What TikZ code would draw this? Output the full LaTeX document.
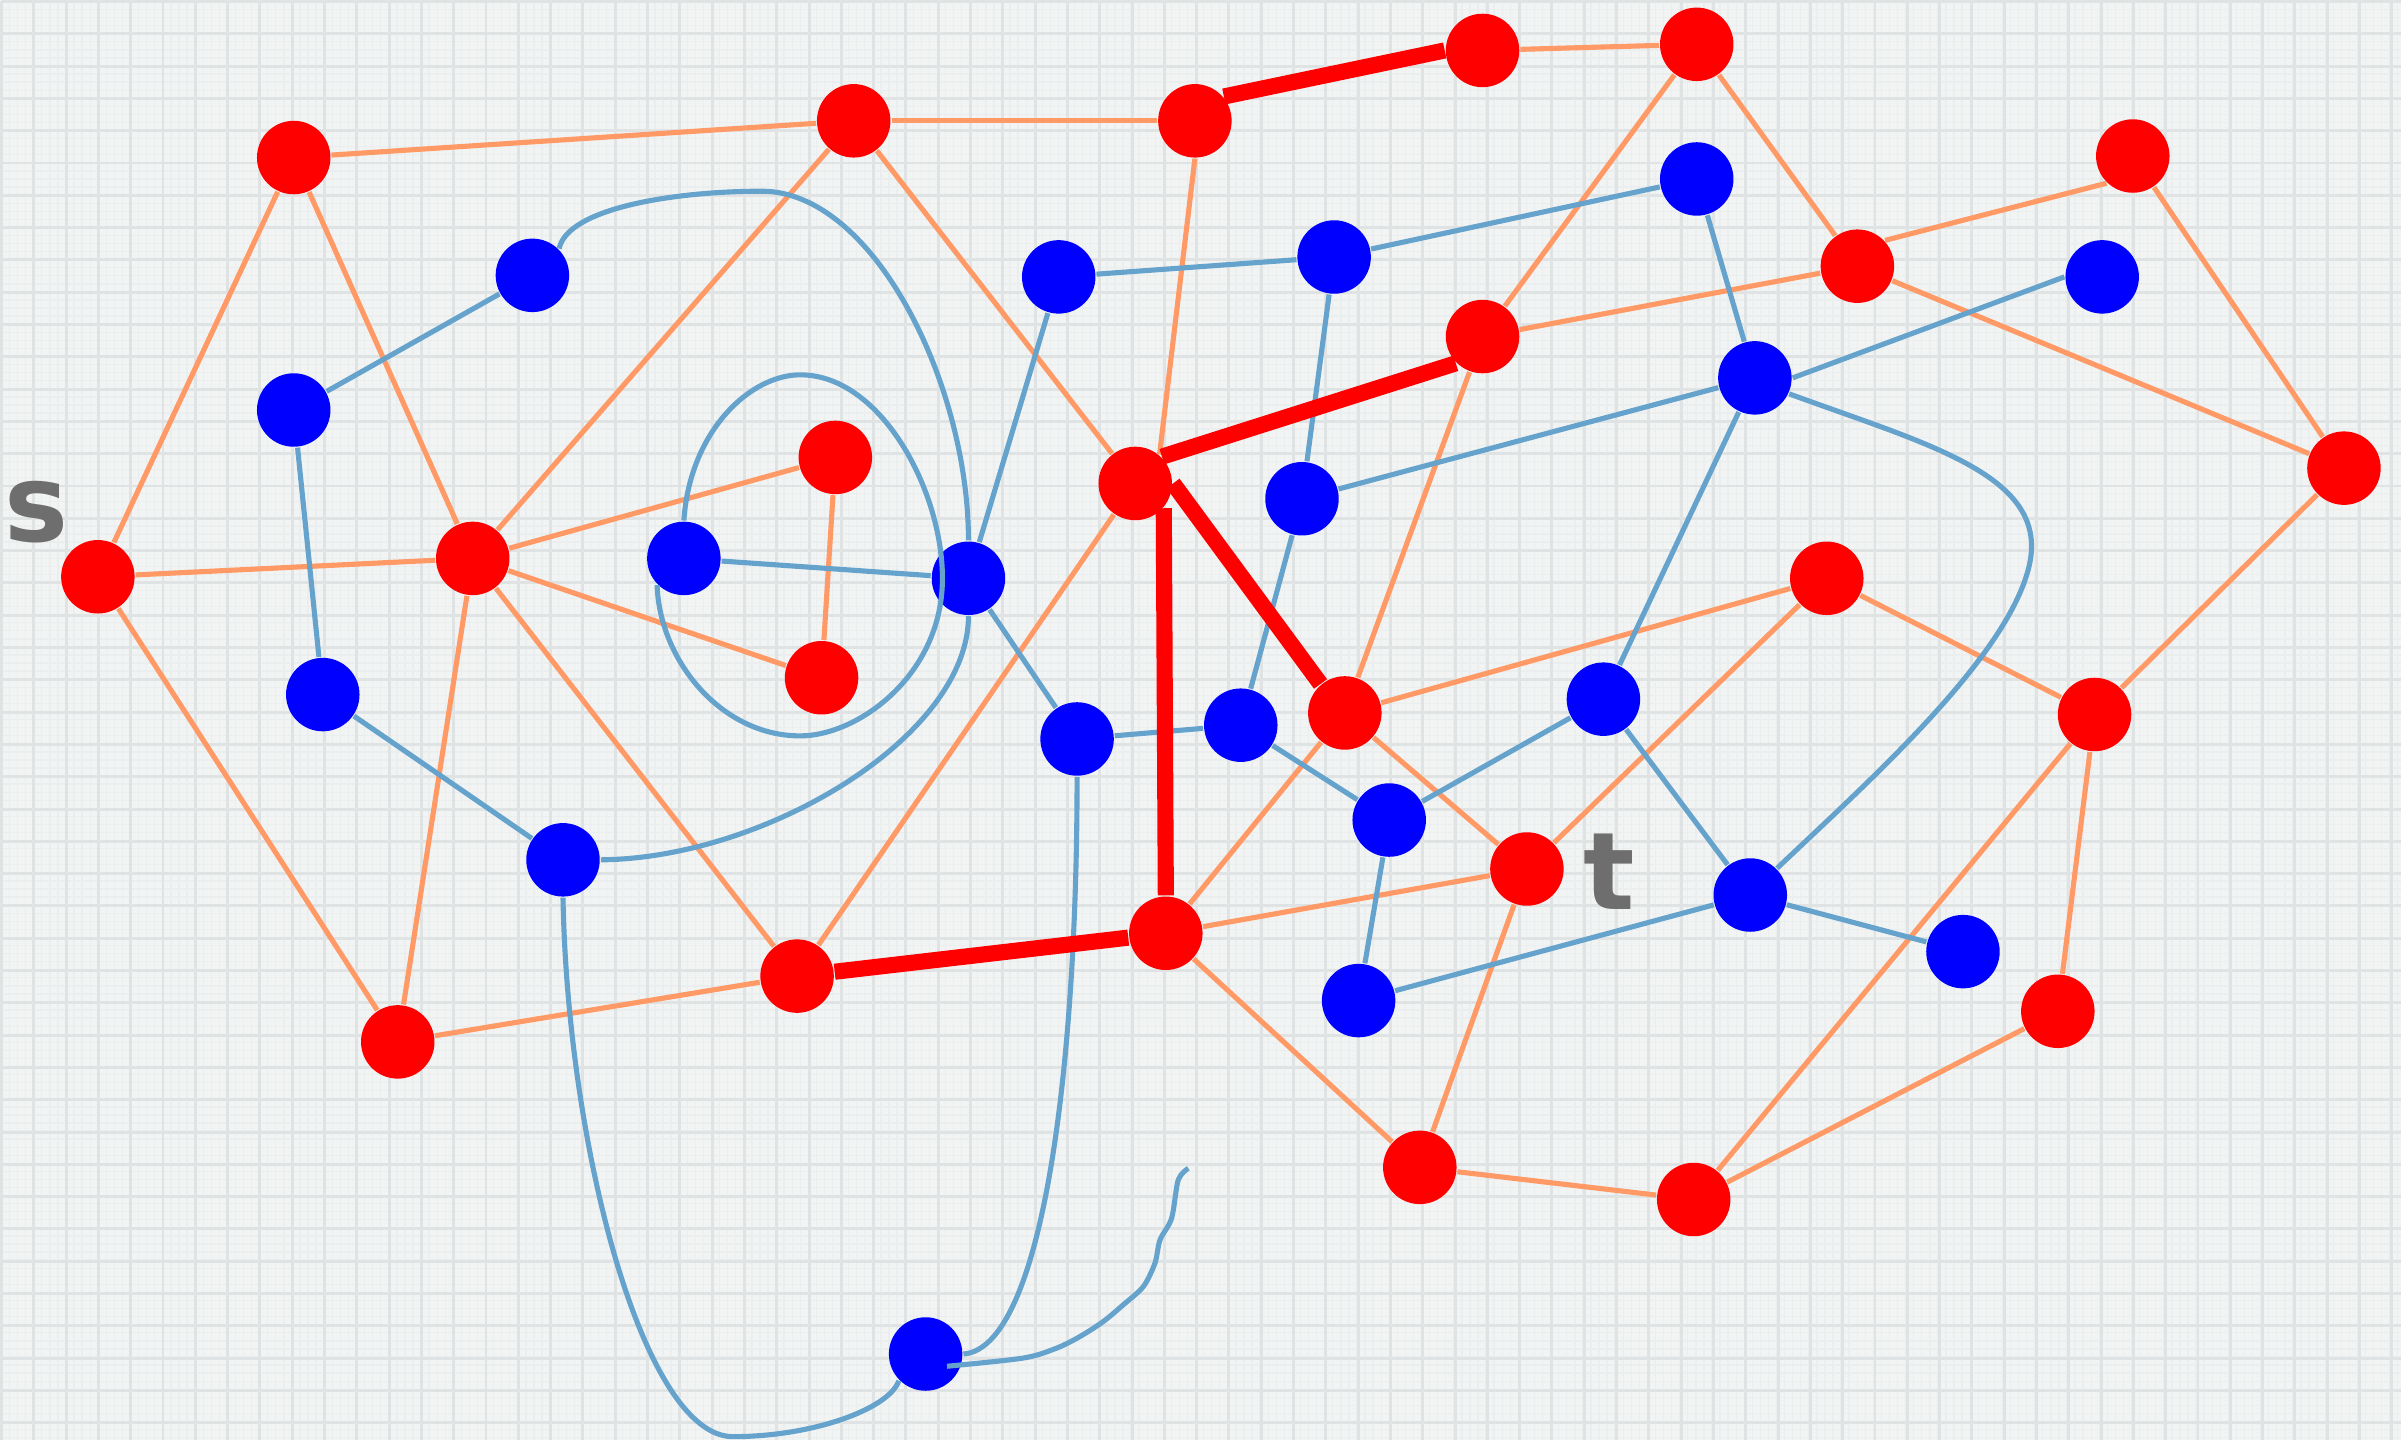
\documentclass[tikz,border=0pt]{standalone}
\usepackage{fontspec}
\newfontfamily\penfont{DejaVu Sans}
\definecolor{paper}{HTML}{F2F4F4}
\definecolor{gridmajor}{HTML}{E0E3E4}
\definecolor{gridminor}{HTML}{EBEEEE}
\definecolor{edgeorange}{HTML}{FF9966}
\definecolor{edgeblue}{HTML}{66A3CC}
\definecolor{pencil}{HTML}{6E6E6E}
\begin{document}
\begin{tikzpicture}[
    x=0.01cm, y=-0.01cm,
    rnode/.style={circle, fill=red, minimum size=4.8mm, inner sep=0pt},
    bnode/.style={circle, fill=blue, minimum size=4.8mm, inner sep=0pt},
    oedge/.style={draw=edgeorange, line width=0.95pt},
    bedge/.style={draw=edgeblue, line width=0.95pt},
    redpath/.style={draw=red, line width=3pt},
    letter/.style={text=pencil, font=\penfont\bfseries\fontsize{20}{20}\selectfont},
]
    % Paper
    \fill[paper] (0,0) rectangle (1568,940);
    \draw[gridminor, line width=0.25pt, step=0.0527cm] (0,0) grid (1568,940);
    \draw[gridmajor, line width=0.55pt, step=0.211cm] (0,0) grid (1568,940);
    \useasboundingbox (0,0) rectangle (1568,940);

    % Red vertices
    \foreach \n/\x/\y in {s/63/376, r1/191/102, r2/308/364, r3/259/680, r4/557/78,
        r5/545/298, r6/536/442, r7/520/637, r8/780/78, r9/968/32, r10/1108/28,
        r11/741/315, r12/968/219, r13/1213/173, r14/1393/101, r15/1531/305,
        r16/878/465, r17/761/609, t/997/567, r18/1193/377, r19/1368/466,
        r20/1344/660, r21/927/762, r22/1106/783} {
        \node[rnode] (\n) at (\x,\y) {};
    }

    % Blue vertices
    \foreach \n/\x/\y in {b1/347/179, b2/191/267, b3/210/453, b4/367/561, b5/446/364,
        b6/632/377, b7/691/180, b8/871/167, b9/1108/116, b10/1373/180,
        b11/1146/246, b12/850/325, b13/703/482, b14/810/473, b15/907/535,
        b16/1047/456, b17/1143/584, b18/1282/621, b19/887/653, b20/604/884} {
        \node[bnode] (\n) at (\x,\y) {};
    }

    % Red graph
    \foreach \a/\b in {s/r1, s/r2, s/r3, r1/r4, r1/r2, r2/r3, r2/r4, r2/r5, r2/r6,
        r2/r7, r5/r6, r3/r7, r4/r8, r4/r11, r9/r10, r10/r12, r12/r16,
        r10/r13, r13/r15, r12/r13, r14/r15, r15/r19, r11/r7, r16/r18,
        r16/t, r16/r17, r17/t, r17/r21, t/r18, t/r21, r18/r19, r19/r20,
        r19/r22, r20/r22, r21/r22} {
        \draw[oedge] (\a) -- (\b);
    }
    \draw[oedge] (r8.south) -- (r11.50);
    \draw[oedge] (r13.43) -- (r14.226);

    % Blue graph
    \foreach \a/\b in {b1/b2, b2/b3, b3/b4, b5/b6, b6/b7, b6/b13, b7/b8, b8/b9,
        b8/b12, b12/b14, b9/b11, b11/b12, b11/b16, b13/b14, b14/b15,
        b15/b16, b15/b19, b16/b17, b17/b18, b17/b19} {
        \draw[bedge] (\a) -- (\b);
    }
    \draw[bedge] (b10.west) -- (b11.east);

    % Blue curves
    \draw[bedge] (b1.north east) .. controls (370,135) and (440,124) .. (497,124)
        .. controls (570,124) and (632,250) .. (b6.north);
    \draw[bedge] (b4.east) .. controls (500,560) and (632,480) .. (b6.south);
    \draw[bedge] (b5.north) .. controls (450,280) and (490,244) .. (522,244)
        .. controls (575,244) and (615,320) .. (615,377)
        .. controls (615,440) and (560,480) .. (522,480)
        .. controls (470,480) and (430,430) .. (b5.south west);
    \draw[bedge] (b4.south) .. controls (370,750) and (420,938) .. (478,938)
        .. controls (530,938) and (580,920) .. (b20.south west);
    \draw[bedge] (b13.south) .. controls (703,700) and (680,880) .. (b20.east);
    \draw[bedge] (b11.-25) .. controls (1260,290) and (1340,310) .. (1325,370)
        .. controls (1310,430) and (1220,510) .. (b17.north east);

    % Cut
    \draw[redpath] (r8.40) -- (r9.180);
    \draw[redpath] (r11.45) -- (r12.225);
    \draw[redpath] (r11.east) -- (r16.130);
    \draw[redpath] (r11.-41) -- (r17.north);
    \draw[redpath] (r7) -- (r17);

    % Stray stroke
    \coordinate (tail) at (775.7,762.6);
    \draw[bedge] plot[smooth, tension=0.5] coordinates {([shift={(14,8)}]b20.center)
        (668,886.6) (689.7,880.1) (705,872.5) (720.2,862.7) (733.2,851.8)
        (746.3,839.9) (753.9,824.6) (757.2,809.4) (764.8,795.2) (769.1,770.2) (tail)};

    % Labels
    \node[letter] (slabel) at (23,334) {s};
    \node[letter] (tlabel) at (1051,569) {t};

\end{tikzpicture}
\end{document}
